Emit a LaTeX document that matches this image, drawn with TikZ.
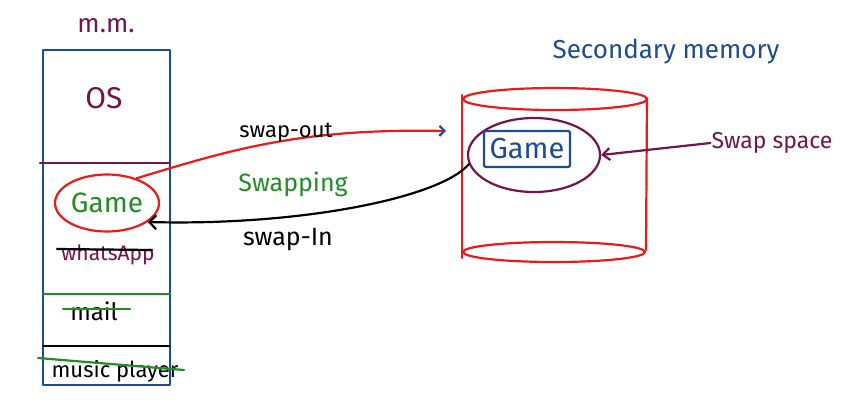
\documentclass[tikz,border=0pt]{standalone}
\usepackage{fontspec}
\setmainfont{Fira Sans}
\usetikzlibrary{shapes.geometric,arrows.meta}
\definecolor{mmpurple}{RGB}{115,20,75}
\definecolor{mmblue}{RGB}{30,75,145}
\definecolor{mmgreen}{RGB}{35,140,35}
\definecolor{mmred}{RGB}{235,25,25}
\tikzset{
  pen/.style={line width=2.2pt, line cap=round, line join=round},
  hand/.style={font=\fontsize{#1}{#1}\selectfont, inner sep=1pt},
  hand/.default=18
}
\begin{document}
\begin{tikzpicture}[x=1pt,y=-1pt]
\useasboundingbox (0,0) rectangle (845,413);
% main memory column
\draw[pen, mmblue] (43,50) rectangle (170,385);
\draw[pen, mmpurple] (40,163) -- (170,163);
\draw[pen, mmgreen] (43,294) -- (170,294);
\draw[pen, black] (43,346) -- (170,346);
\node[hand=26, mmpurple] (mmlabel) at (106,26) {m.m.};
\node[hand=30, mmpurple] (os) at (104,98) {OS};
\node[pen, ellipse, draw=mmred, minimum width=104pt, minimum height=57pt, hand=28, text=mmgreen, inner sep=0pt] (mmgame) at (107,203) {Game};
\node[hand=21, mmpurple] (whats) at (108,255) {whatsApp};
\draw[pen, black] (57,249) -- (152,250);
\node[hand=24, black] (mail) at (94,311) {mail};
\draw[pen, mmgreen] (63,309) -- (130,309);
\node[hand=22, black] (music) at (115,371) {music player};
\draw[pen, mmgreen] (38,358) -- (184,370);
% secondary memory cylinder
\draw[pen, mmred] (555,99) ellipse[x radius=92pt, y radius=11pt];
\draw[pen, mmred] (554,252) ellipse[x radius=91pt, y radius=10pt];
\draw[pen, mmred] (462,95) -- (462,258);
\draw[pen, mmred] (647,98) -- (646,250);
\node[hand=26, mmblue] (sectitle) at (666,52) {Secondary memory};
\node[pen, ellipse, draw=mmpurple, minimum width=132pt, minimum height=74pt] (swapell) at (534,155) {};
\node[pen, draw=mmblue, rounded corners=2pt, minimum width=86pt, minimum height=36pt, hand=29, text=mmblue, inner sep=0pt] (swapgame) at (527,149) {Game};
\node[hand=23, mmpurple] (swaplabel) at (772,143) {Swap space};
\draw[pen, mmpurple, -{Straight Barb[length=7pt,width=12pt]}] (swaplabel.west) -- (swapell.east);
% swapping arrows
\coordinate (outend) at (446,131);
\draw[pen, mmred, -{Straight Barb[length=5pt,width=10pt,color=mmblue]}] (mmgame.40) .. controls (230,150) and (300,128) .. (outend);
\draw[pen, black, -{Straight Barb[length=7pt,width=14pt]}] (swapell.188) .. controls (440,198) and (300,226) .. (mmgame.-25);
\node[hand=22, black] (outlbl) at (286,133) {swap-out};
\node[hand=25, mmgreen] (swappinglbl) at (293,184) {Swapping};
\node[hand=25, black] (inlbl) at (288,240) {swap-In};
\end{tikzpicture}
\end{document}
